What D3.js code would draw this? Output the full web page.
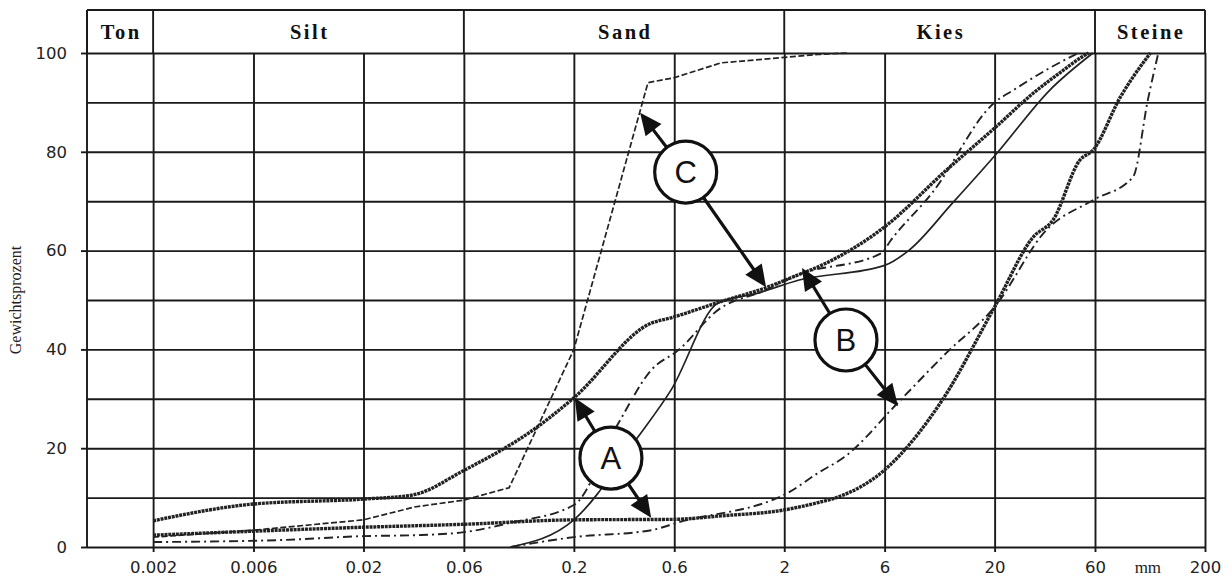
<!DOCTYPE html>
<html><head><meta charset="utf-8">
<script src="https://cdn.jsdelivr.net/npm/d3@7"></script>
<style>
body{margin:0;background:#fff}
svg{display:block}
</style>
</head><body>
<svg id="chart" width="1232" height="580"></svg>
<script>
// ---------- data ----------
const xMin = 0.00097, xMax = 200;                       // axis range (mm)
const xTicks = [0.002,0.006,0.02,0.06,0.2,0.6,2,6,20,60,200];
const xTickLabels = ["0.002","0.006","0.02","0.06","0.2","0.6","2","6","20","60","200"];
const yTicks = [0,20,40,60,80,100];
const yGrid  = [0,10,20,30,40,50,60,70,80,90,100];
const unitLabel = {text:"mm", at:107};
const yTitle = "Gewichtsprozent";

const fractionNames = ["Ton","Silt","Sand","Kies","Steine"];
const fractionBounds = [xMin,0.002,0.06,2,60,200];

// grain-size curves: [diameter mm, passing %]
const curveUpperBeaded = [[0.002,5.3],[0.006,8.7],[0.02,9.7],[0.034,10.5],[0.06,15.5],[0.134,24.3],[0.2,30.2],
  [0.466,45.3],[0.58,46.4],[0.97,49.5],[1.64,52.5],[2.3,55],[3,57],[6,64.8],[11.8,76.3],[20,84.8],[30.6,91.9],[40.9,96],[52,99.2],[56,100]];
const curveLowerBeaded = [[0.002,2.4],[0.006,3.2],[0.02,4.0],[0.06,4.6],[0.2,5.5],[0.6,5.6],[1.0,6.3],[2,7.5],[2.9,9],[3.6,10.1],
  [6,15.6],[11.3,29.8],[20,48.6],[30.6,62.8],[37.9,66.2],[50.8,78.3],[58.9,80.4],[79,91],[110,100]];
const curveC = [[0.002,2.0],[0.006,3.4],[0.02,5.5],[0.035,8.1],[0.06,9.5],[0.0985,12],[0.2,40],[0.45,94],[0.6,95],[1.0,98],[2.9,99.7],[4,100]];
const curveSolid = [[0.1,0],[0.2,5.5],[0.404,22.3],[0.58,31.8],[0.97,49.4],[1.5,51.4],[2.33,54],[6,57],[7.8,60],[12.6,69.6],[20.6,79.8],[36.6,92.5],[58.7,100]];
const curveDashDotSand = [[0.002,1.0],[0.008,1.4],[0.02,2.2],[0.036,2.4],[0.06,3.0],[0.1,4.9],[0.2,8.5],[0.325,25],[0.466,35.8],
  [0.63,39.9],[0.97,48],[1.63,52],[2.3,55],[5.8,59.5],[6.4,62],[10.1,71.7],[20,90],[24.6,92.5],[35.3,96.6],[50,100]];
const curveDashDotB = [[0.1,0],[0.2,2],[0.466,3.4],[0.63,5],[2.09,11],[2.9,15],[3.86,18.2],[6.9,29.1],[11.8,39.3],[20,48.6],
  [35.3,64.2],[58.6,70.2],[91,74.9],[107,90.5],[120,100]];

// annotation markers: label, circle centre, arrow tips (mm, %)
const markerLabels = ["A","B","C"];
const markerCentres = [[0.30,18.0],[3.93,41.9],[0.68,75.9]];
const markerTips = [[[0.202,30.2],[0.466,5.9]], [[2.43,56.5],[6.95,28.5]], [[0.413,87.9],[1.64,52.6]]];

// ---------- layout ----------
const L = 87, R = 1205, T = 53, B = 547, headTop = 10;
const ink = "#1a1a1a";
const svg = d3.select("#chart");
const x = d3.scaleLog().domain([xMin, xMax]).range([L, R]);
const y = d3.scaleLinear().domain([0, 100]).range([B, T]);

// grid: horizontal
const gy = svg.append("g").attr("transform",`translate(${L},0)`)
  .call(d3.axisLeft(y).tickValues(yGrid).tickSize(-(R-L)).tickFormat(""));
gy.select(".domain").remove();
gy.selectAll("line").attr("stroke",ink).attr("stroke-width",1.9);

// grid: vertical (with small ticks below)
const gx = svg.append("g").attr("transform",`translate(0,${B})`)
  .call(d3.axisBottom(x).tickValues(xTicks).tickSize(5).tickPadding(9)
    .tickFormat((d,i)=>xTickLabels[i]));
gx.select(".domain").remove();
gx.selectAll(".tick line").attr("y1",-(B-T)).attr("y2",5).attr("stroke",ink).attr("stroke-width",1.9);
gx.selectAll("text").attr("font-family","DejaVu Sans, sans-serif").attr("font-size",16.5).attr("fill","#222");

// y axis labels + ticks
const ya = svg.append("g").attr("transform",`translate(${L},0)`)
  .call(d3.axisLeft(y).tickValues(yTicks).tickSize(6).tickPadding(14).tickFormat(d3.format("d")));
ya.select(".domain").remove();
ya.selectAll(".tick line").attr("stroke",ink).attr("stroke-width",1.9);
ya.selectAll("text").attr("font-family","DejaVu Sans, sans-serif").attr("font-size",16.5).attr("fill","#222");

// frame + header
svg.append("line").attr("x1",L).attr("x2",R).attr("y1",headTop).attr("y2",headTop).attr("stroke",ink).attr("stroke-width",1.9);
svg.append("line").attr("x1",L).attr("x2",L).attr("y1",headTop).attr("y2",B).attr("stroke",ink).attr("stroke-width",1.9);
svg.append("g").selectAll("line").data(fractionBounds).join("line")
  .attr("x1",d=>x(d)).attr("x2",d=>x(d)).attr("y1",headTop).attr("y2",T)
  .attr("stroke",ink).attr("stroke-width",1.9);
svg.append("g").selectAll("text").data(fractionNames).join("text")
  .attr("x",(d,i)=>(x(fractionBounds[i])+x(fractionBounds[i+1]))/2 + 1.2)
  .attr("y",39)
  .attr("text-anchor","middle")
  .attr("font-family","Liberation Serif, Times New Roman, serif")
  .attr("font-weight","bold").attr("font-size",20.5).attr("letter-spacing","2.5px")
  .attr("fill","#111").text(d=>d);

// unit label
svg.append("text").attr("x",x(unitLabel.at)).attr("y",B+26)
  .attr("text-anchor","middle").attr("font-family","Liberation Serif, serif").attr("font-size",17)
  .attr("fill","#222").text(unitLabel.text);

// y title
svg.append("text").attr("transform","translate(21,300) rotate(-90)")
  .attr("text-anchor","middle").attr("font-family","Liberation Serif, serif").attr("font-size",16)
  .attr("fill","#222").text(yTitle);

// ---------- curves ----------
const line = d3.line().x(d=>x(d[0])).y(d=>y(d[1])).curve(d3.curveMonotoneX);
const lineLin = d3.line().x(d=>x(d[0])).y(d=>y(d[1]));
const curves = [
  {data:curveSolid, gen:line, w:1.7, dash:null},
  {data:curveDashDotB, gen:line, w:1.9, dash:"9,4,2,4"},
  {data:curveDashDotSand, gen:line, w:1.9, dash:"9,4,2,4"},
  {data:curveC, gen:lineLin, w:1.7, dash:"6,2.5"},
  {data:curveLowerBeaded, gen:line, w:3.4, dash:"3,0.8"},
  {data:curveUpperBeaded, gen:line, w:3.4, dash:"3,0.8"}
];
svg.append("g").selectAll("path").data(curves).join("path")
  .attr("d",d=>d.gen(d.data)).attr("fill","none").attr("stroke","#222")
  .attr("stroke-width",d=>d.w).attr("stroke-dasharray",d=>d.dash);

// ---------- markers ----------
const r = 31, headLen = 22, headHalf = 10;
const mg = svg.append("g");
markerLabels.forEach((lab,i)=>{
  const cx = x(markerCentres[i][0]), cy = y(markerCentres[i][1]);
  markerTips[i].forEach(tp=>{
    const tx = x(tp[0]), ty = y(tp[1]);
    const dx = tx-cx, dy = ty-cy, len = Math.hypot(dx,dy), ux = dx/len, uy = dy/len;
    const bx = tx-ux*headLen, by = ty-uy*headLen;
    mg.append("line").attr("x1",cx+ux*r).attr("y1",cy+uy*r).attr("x2",bx+ux*2).attr("y2",by+uy*2)
      .attr("stroke","#111").attr("stroke-width",3.2);
    mg.append("path").attr("d",`M${tx},${ty}L${bx-uy*headHalf},${by+ux*headHalf}L${bx+uy*headHalf},${by-ux*headHalf}Z`)
      .attr("fill","#111");
  });
  mg.append("circle").attr("cx",cx).attr("cy",cy).attr("r",r)
    .attr("fill","#fff").attr("stroke","#111").attr("stroke-width",3.2);
  mg.append("text").attr("x",cx).attr("y",cy+11).attr("text-anchor","middle")
    .attr("font-family","Liberation Sans, Arial, sans-serif").attr("font-size",31)
    .attr("fill","#111").text(lab);
});
</script>
</body></html>
